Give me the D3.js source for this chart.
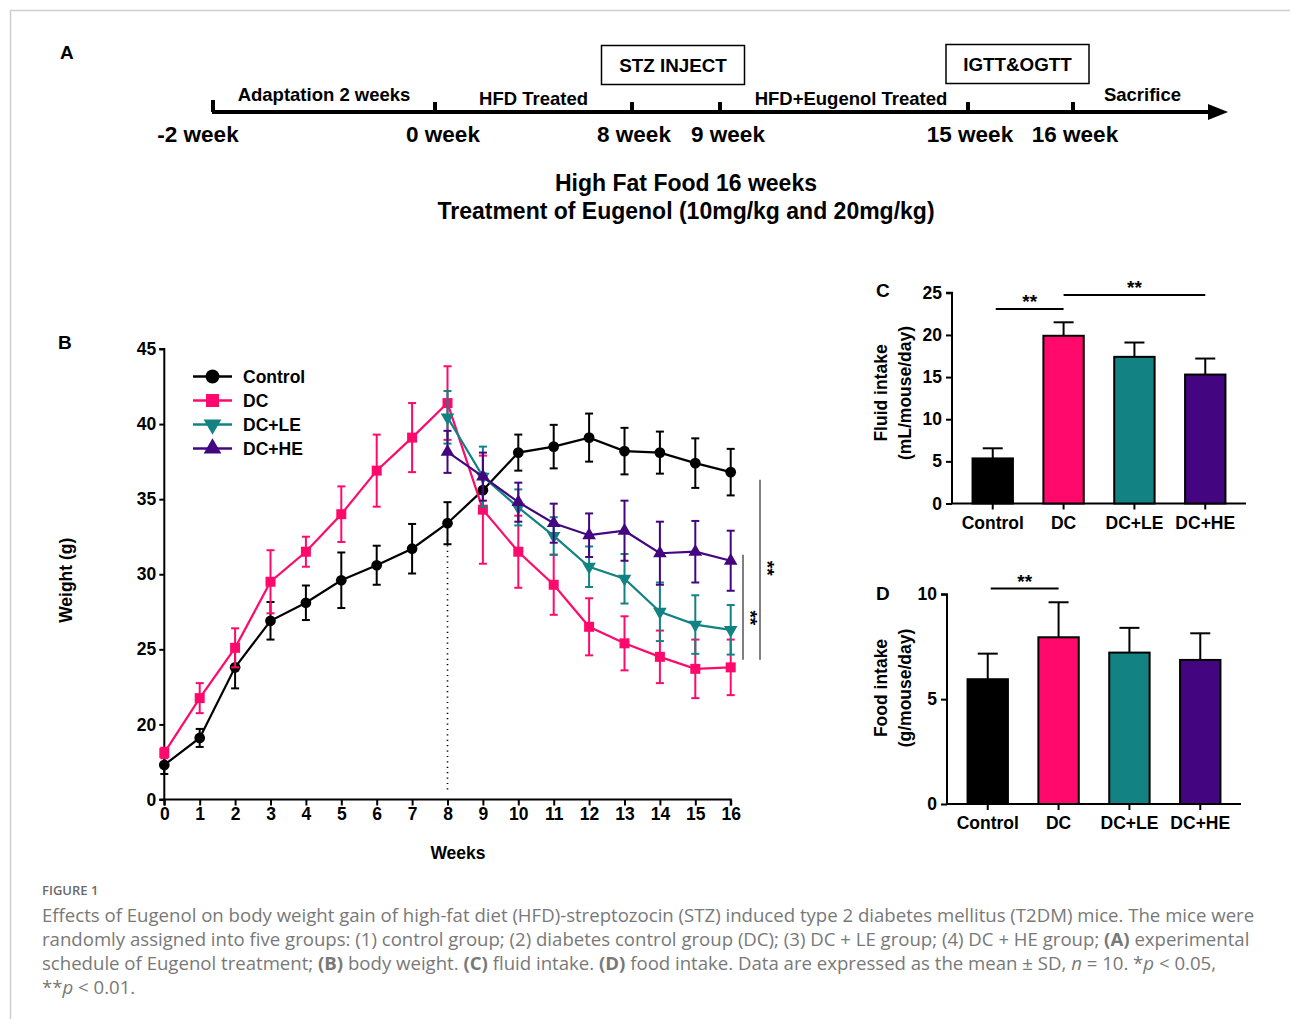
<!DOCTYPE html>
<html>
<head>
<meta charset="utf-8">
<script src="https://cdn.jsdelivr.net/npm/d3@7"></script>
<style>
  body { margin: 0; background: #fff; }
  svg { display: block; }
  .bold { font-family: "Liberation Sans", Arial, sans-serif; font-weight: bold; fill: #000; }
  .cap { font-family: "Open Sans", sans-serif; fill: #787878; }
</style>
</head>
<body>
<svg id="fig" width="1290" height="1019"></svg>
<script>
// ---------- data ----------
const weeks = d3.range(0, 17)
const groups = ['Control', 'DC', 'DC+LE', 'DC+HE']
const colors = ['#000000', '#ff0a6c', '#138282', '#440680']

const controlMean = [17.3, 19.1, 23.8, 26.9, 28.1, 29.6, 30.6, 31.7, 33.4, 35.6, 38.1, 38.5, 39.1, 38.2, 38.1, 37.4, 36.8]
const controlSD = [0.6, 0.6, 1.4, 1.25, 1.15, 1.85, 1.3, 1.65, 1.4, 1.1, 1.2, 1.45, 1.6, 1.55, 1.4, 1.65, 1.55]
const dcMean = [18.1, 21.75, 25.1, 29.5, 31.5, 34.0, 36.9, 39.1, 41.4, 34.3, 31.5, 29.3, 26.5, 25.4, 24.5, 23.7, 23.8]
const dcSD = [0.35, 1.0, 1.3, 2.1, 1.0, 1.85, 2.4, 2.3, 2.45, 3.6, 2.4, 2.0, 1.9, 1.8, 1.75, 1.95, 1.85]
const leMean = [40.45, 36.5, 34.45, 32.55, 30.5, 29.7, 27.5, 26.65, 26.3]
const leSD = [1.75, 2.0, 1.2, 1.25, 1.35, 1.65, 1.95, 1.95, 1.65]
const heMean = [38.15, 36.5, 34.8, 33.4, 32.6, 32.9, 31.4, 31.5, 30.9]
const heSD = [1.4, 1.6, 1.3, 1.3, 1.45, 2.0, 2.1, 2.05, 2.0]
const treatWeeks = d3.range(8, 17)

const fluidMean = [5.35, 19.9, 17.4, 15.3]
const fluidSD = [1.2, 1.6, 1.7, 1.9]
const foodMean = [5.95, 7.95, 7.22, 6.87]
const foodSD = [1.22, 1.67, 1.18, 1.27]

const timelineWeeks = [-2, 0, 8, 9, 15, 16]
const timelineLabels = ['-2 week', '0 week', '8 week', '9 week', '15 week', '16 week']
const phases = [
  { text: 'Adaptation 2 weeks', from: -2, to: 0, dy: -17 },
  { text: 'HFD Treated', from: 0, to: 8, dy: -13 },
  { text: 'HFD+Eugenol Treated', from: 9, to: 15, dy: -13 },
  { text: 'Sacrifice', from: 16, to: 19, dy: -17 }
]
const events = [
  { text: 'STZ INJECT', from: 8, to: 9 },
  { text: 'IGTT&OGTT', from: 15, to: 16 }
]

const svg = d3.select('#fig')

// frame
svg.append('path')
  .attr('d', 'M10.5,1019 V10.5 H1290')
  .attr('fill', 'none').attr('stroke', '#cfcfcf').attr('stroke-width', 1.5)

// ---------- panel A: timeline ----------
const tl = d3.scaleLinear()
  .domain([-2, 0, 8, 9, 15, 16, 19])
  .range([213, 435, 632, 720, 968, 1073, 1212])
const tlY = 112

svg.append('text').attr('class', 'bold').attr('x', 60).attr('y', 59)
  .style('font-size', '19px').text('A')

svg.append('line')
  .attr('x1', tl(-2) - 1).attr('x2', tl(19))
  .attr('y1', tlY).attr('y2', tlY)
  .attr('stroke', '#000').attr('stroke-width', 4)
svg.append('path')
  .attr('d', `M${tl(19) - 4},${tlY - 8} L${tl(19) + 16},${tlY} L${tl(19) - 4},${tlY + 8} Z`)
  .attr('fill', '#000')

svg.selectAll('.tltick')
  .data(timelineWeeks)
  .enter().append('line')
  .attr('class', 'tltick')
  .attr('x1', (d) => tl(d)).attr('x2', (d) => tl(d))
  .attr('y1', tlY).attr('y2', (d, i) => i === 0 ? tlY - 12 : tlY - 10)
  .attr('stroke', '#000').attr('stroke-width', 4)

svg.selectAll('.tllab')
  .data(timelineWeeks)
  .enter().append('text')
  .attr('class', 'bold tllab')
  .attr('x', (d, i) => tl(d) + (i === 0 ? -15 : (i === 3 ? 8 : (i === 1 ? 8 : 2))))
  .attr('y', tlY + 30)
  .attr('text-anchor', 'middle')
  .style('font-size', '22.5px')
  .text((d, i) => timelineLabels[i])

svg.selectAll('.phase')
  .data(phases)
  .enter().append('text')
  .attr('class', 'bold phase')
  .attr('x', (d) => (tl(d.from) + tl(d.to)) / 2 + (d.from === 9 ? 7 : 0))
  .attr('y', (d) => tlY + d.dy + 6)
  .attr('text-anchor', 'middle')
  .style('font-size', '18.5px')
  .text((d) => d.text)

events.forEach((e) => {
  const cx = (tl(e.from) + tl(e.to)) / 2 - 3
  const top = e.from === 8 ? 45.5 : 44.5
  svg.append('rect')
    .attr('x', cx - 71.5).attr('y', top)
    .attr('width', 143).attr('height', 39)
    .attr('fill', '#fff').attr('stroke', '#000').attr('stroke-width', 1.5)
  svg.append('text').attr('class', 'bold')
    .attr('x', cx).attr('y', top + 26.5)
    .attr('text-anchor', 'middle')
    .style('font-size', '18.8px')
    .text(e.text)
})

svg.append('text').attr('class', 'bold')
  .attr('x', 686).attr('y', 191).attr('text-anchor', 'middle')
  .style('font-size', '23px').style('font-weight', '600')
  .text('High Fat Food 16 weeks')
svg.append('text').attr('class', 'bold')
  .attr('x', 686).attr('y', 219).attr('text-anchor', 'middle')
  .style('font-size', '23px').style('font-weight', '600')
  .text('Treatment of Eugenol (10mg/kg and 20mg/kg)')

// ---------- panel B: body weight ----------
const gB = svg.append('g')
const x = d3.scaleLinear().domain([0, 16]).range([164.3, 730.7])
const y = d3.scaleLinear().domain([15, 45]).range([799.5, 349])

svg.append('text').attr('class', 'bold').attr('x', 58).attr('y', 349)
  .style('font-size', '19px').text('B')

const yAxisB = d3.axisLeft(y)
  .tickValues([15, 20, 25, 30, 35, 40, 45])
  .tickFormat((d) => d === 15 ? '0' : d)
  .tickSize(5).tickPadding(3)
const xAxisB = d3.axisBottom(x)
  .tickValues(weeks).tickSize(6).tickPadding(2)

function styleAxis (g, size) {
  g.selectAll('path, line').attr('stroke', '#000').attr('stroke-width', 2)
  g.selectAll('text')
    .attr('class', 'bold')
    .style('font-size', size || '16px')
    .attr('fill', '#000')
}

gB.append('g').attr('transform', `translate(${x(0)},0)`).call(yAxisB)
  .call((g) => g.select('.domain').attr('d', `M-5,${y(15)}H0V${y(45)}H-5`))
  .call((g) => styleAxis(g, '17.5px'))
gB.append('g').attr('transform', `translate(0,${y(15)})`).call(xAxisB)
  .call((g) => g.select('.domain').attr('d', `M${x(0)},6V0H${x(16)}V6`))
  .call((g) => styleAxis(g, '17.5px'))

// dotted line at week 8
gB.append('line')
  .attr('x1', x(8)).attr('x2', x(8))
  .attr('y1', y(15) - 10).attr('y2', y(32.5))
  .attr('stroke', '#000').attr('stroke-width', 1.6)
  .attr('stroke-dasharray', '1.2,4.2')

gB.append('text').attr('class', 'bold')
  .attr('transform', `translate(72,${y(29.6)}) rotate(-90)`)
  .attr('text-anchor', 'middle')
  .style('font-size', '17.5px').text('Weight (g)')
gB.append('text').attr('class', 'bold')
  .attr('x', 458).attr('y', 859).attr('text-anchor', 'middle')
  .style('font-size', '17.5px').text('Weeks')

const series = [
  { name: 'Control', color: colors[0], sym: d3.symbolCircle, size: 90, rot: 0, wk: weeks, mean: controlMean, sd: controlSD },
  { name: 'DC', color: colors[1], sym: d3.symbolSquare, size: 100, rot: 0, wk: weeks, mean: dcMean, sd: dcSD },
  { name: 'DC+LE', color: colors[2], sym: d3.symbolTriangle, size: 80, rot: 180, wk: treatWeeks, mean: leMean, sd: leSD },
  { name: 'DC+HE', color: colors[3], sym: d3.symbolTriangle, size: 80, rot: 0, wk: treatWeeks, mean: heMean, sd: heSD }
]

const line = d3.line().x((d) => x(d.w)).y((d) => y(d.m))

series.forEach((s) => {
  const pts = s.wk.map((w, i) => ({ w: w, m: s.mean[i], sd: s.sd[i] }))
  const g = gB.append('g')
  const eb = g.selectAll('.eb').data(pts).enter().append('g')
  eb.append('line')
    .attr('x1', (d) => x(d.w)).attr('x2', (d) => x(d.w))
    .attr('y1', (d) => y(d.m - d.sd)).attr('y2', (d) => y(d.m + d.sd))
    .attr('stroke', s.color).attr('stroke-width', 2)
  eb.append('line')
    .attr('x1', (d) => x(d.w) - 4).attr('x2', (d) => x(d.w) + 4)
    .attr('y1', (d) => y(d.m + d.sd)).attr('y2', (d) => y(d.m + d.sd))
    .attr('stroke', s.color).attr('stroke-width', 2)
  eb.append('line')
    .attr('x1', (d) => x(d.w) - 4).attr('x2', (d) => x(d.w) + 4)
    .attr('y1', (d) => y(d.m - d.sd)).attr('y2', (d) => y(d.m - d.sd))
    .attr('stroke', s.color).attr('stroke-width', 2)
  g.append('path').datum(pts)
    .attr('d', line).attr('fill', 'none')
    .attr('stroke', s.color).attr('stroke-width', 2.2)
  g.selectAll('.mk').data(pts).enter().append('path')
    .attr('d', d3.symbol().type(s.sym).size(s.size))
    .attr('transform', (d) => `translate(${x(d.w)},${y(d.m)}) rotate(${s.rot})`)
    .attr('fill', s.color)
})

// legend
const leg = gB.append('g')
series.forEach((s, i) => {
  const ly = 376.5 + i * 24
  leg.append('line').attr('x1', 193).attr('x2', 232).attr('y1', ly).attr('y2', ly)
    .attr('stroke', s.color).attr('stroke-width', 2.5)
  leg.append('path')
    .attr('d', d3.symbol().type(s.sym).size(s.size * 1.7))
    .attr('transform', `translate(212.5,${ly}) rotate(${s.rot})`)
    .attr('fill', s.color)
  leg.append('text').attr('class', 'bold')
    .attr('x', 243).attr('y', ly + 6.5)
    .style('font-size', '17.5px').text(s.name)
})

// significance brackets (B)
gB.append('line').attr('x1', 760).attr('x2', 760).attr('y1', y(36.3)).attr('y2', y(24.3))
  .attr('stroke', '#555').attr('stroke-width', 1.5)
gB.append('line').attr('x1', 743).attr('x2', 743).attr('y1', y(31.3)).attr('y2', y(24.3))
  .attr('stroke', '#555').attr('stroke-width', 1.5)
gB.append('text').attr('class', 'bold')
  .attr('transform', `translate(761,${y(30.4)}) rotate(90)`)
  .attr('text-anchor', 'middle').style('font-size', '19px').text('**')
gB.append('text').attr('class', 'bold')
  .attr('transform', `translate(744,${y(27.1)}) rotate(90)`)
  .attr('text-anchor', 'middle').style('font-size', '19px').text('**')

// ---------- bar panels ----------
function barPanel (opt) {
  const g = svg.append('g')
  const xb = d3.scaleBand().domain(groups).range(opt.xr).paddingInner(0.43).paddingOuter(0.29)
  const yb = d3.scaleLinear().domain([0, opt.max]).range(opt.yr)

  g.append('text').attr('class', 'bold').attr('x', 876).attr('y', opt.labelY)
    .style('font-size', '19px').text(opt.letter)

  g.append('g').attr('transform', `translate(${opt.xr[0]},0)`)
    .call(d3.axisLeft(yb).tickValues(opt.ticks).tickSize(6).tickPadding(4))
    .call((a) => a.select('.domain').attr('d', `M0,${opt.yr[0]}V${opt.yr[1]}H-6`))
    .call((a) => styleAxis(a, '17.5px'))
  g.append('g').attr('transform', `translate(0,${opt.yr[0]})`)
    .call(d3.axisBottom(xb).tickSize(6).tickPadding(7))
    .call((a) => a.select('.domain').attr('d', `M${opt.xr[0]},0H${opt.xr[1]}`))
    .call((a) => styleAxis(a, '17.5px'))

  const bw = xb.bandwidth()
  const bars = g.selectAll('.bar').data(groups).enter().append('g')
  bars.append('line')
    .attr('x1', (d) => xb(d) + bw / 2).attr('x2', (d) => xb(d) + bw / 2)
    .attr('y1', (d, i) => yb(opt.mean[i])).attr('y2', (d, i) => yb(opt.mean[i] + opt.sd[i]))
    .attr('stroke', '#000').attr('stroke-width', 2)
  bars.append('line')
    .attr('x1', (d) => xb(d) + bw / 2 - 10).attr('x2', (d) => xb(d) + bw / 2 + 10)
    .attr('y1', (d, i) => yb(opt.mean[i] + opt.sd[i])).attr('y2', (d, i) => yb(opt.mean[i] + opt.sd[i]))
    .attr('stroke', '#000').attr('stroke-width', 2)
  bars.append('rect')
    .attr('x', (d) => xb(d)).attr('width', bw)
    .attr('y', (d, i) => yb(opt.mean[i]))
    .attr('height', (d, i) => yb(0) - yb(opt.mean[i]))
    .attr('fill', (d, i) => colors[i])
    .attr('stroke', '#000').attr('stroke-width', 2)

  g.append('text').attr('class', 'bold')
    .attr('transform', `translate(${opt.ylx},${opt.ylc}) rotate(-90)`)
    .attr('text-anchor', 'middle').style('font-size', '17.5px')
    .selectAll('tspan').data(opt.ylabel).enter().append('tspan')
    .attr('x', 0).attr('dy', (d, i) => i === 0 ? 0 : 23.5).text((d) => d)

  opt.sig.forEach((s) => {
    const c = (k) => xb(groups[k]) + bw / 2
    g.append('line').attr('x1', c(s[0]) + s[3]).attr('x2', c(s[1]))
      .attr('y1', s[2]).attr('y2', s[2])
      .attr('stroke', '#000').attr('stroke-width', 2)
    g.append('text').attr('class', 'bold')
      .attr('x', (c(s[0]) + s[3] + c(s[1])) / 2).attr('y', s[2] - 1)
      .attr('text-anchor', 'middle').style('font-size', '19px').text('**')
  })
}

barPanel({
  letter: 'C', labelY: 297, xr: [952, 1246], yr: [503.5, 292.8], max: 25,
  ticks: [0, 5, 10, 15, 20, 25], mean: fluidMean, sd: fluidSD,
  ylabel: ['Fluid intake', '(mL/mouse/day)'], ylx: 887, ylc: 393,
  sig: [[0, 1, 309, 3], [1, 3, 295, 0]]
})
barPanel({
  letter: 'D', labelY: 600, xr: [947, 1241], yr: [804, 594.3], max: 10,
  ticks: [0, 5, 10], mean: foodMean, sd: foodSD,
  ylabel: ['Food intake', '(g/mouse/day)'], ylx: 887, ylc: 688,
  sig: [[0, 1, 588.5, 3]]
})

// ---------- caption ----------
svg.append('text').attr('class', 'cap').attr('x', 42).attr('y', 895)
  .style('font-size', '13px').style('font-weight', '600').style('fill', '#6a6a6a')
  .text('FIGURE 1')

const capLines = [
  [['Effects of Eugenol on body weight gain of high-fat diet (HFD)-streptozocin (STZ) induced type 2 diabetes mellitus (T2DM) mice. The mice were', '']],
  [['randomly assigned into five groups: (1) control group; (2) diabetes control group (DC); (3) DC + LE group; (4) DC + HE group; ', ''], ['(A)', 'b'], [' experimental', '']],
  [['schedule of Eugenol treatment; ', ''], ['(B)', 'b'], [' body weight. ', ''], ['(C)', 'b'], [' fluid intake. ', ''], ['(D)', 'b'], [' food intake. Data are expressed as the mean \u00b1 SD, ', ''], ['n', 'i'], [' = 10. *', ''], ['p', 'i'], [' < 0.05,', '']],
  [['**', ''], ['p', 'i'], [' < 0.01.', '']]
]
capLines.forEach((ln, i) => {
  const t = svg.append('text').attr('class', 'cap')
    .attr('x', 42).attr('y', 922 + i * 24)
    .style('font-size', '18.6px')
  t.selectAll('tspan').data(ln).enter().append('tspan')
    .style('font-weight', (d) => d[1] === 'b' ? '700' : '400')
    .style('font-style', (d) => d[1] === 'i' ? 'italic' : 'normal')
    .text((d) => d[0])
})
</script>
</body>
</html>
